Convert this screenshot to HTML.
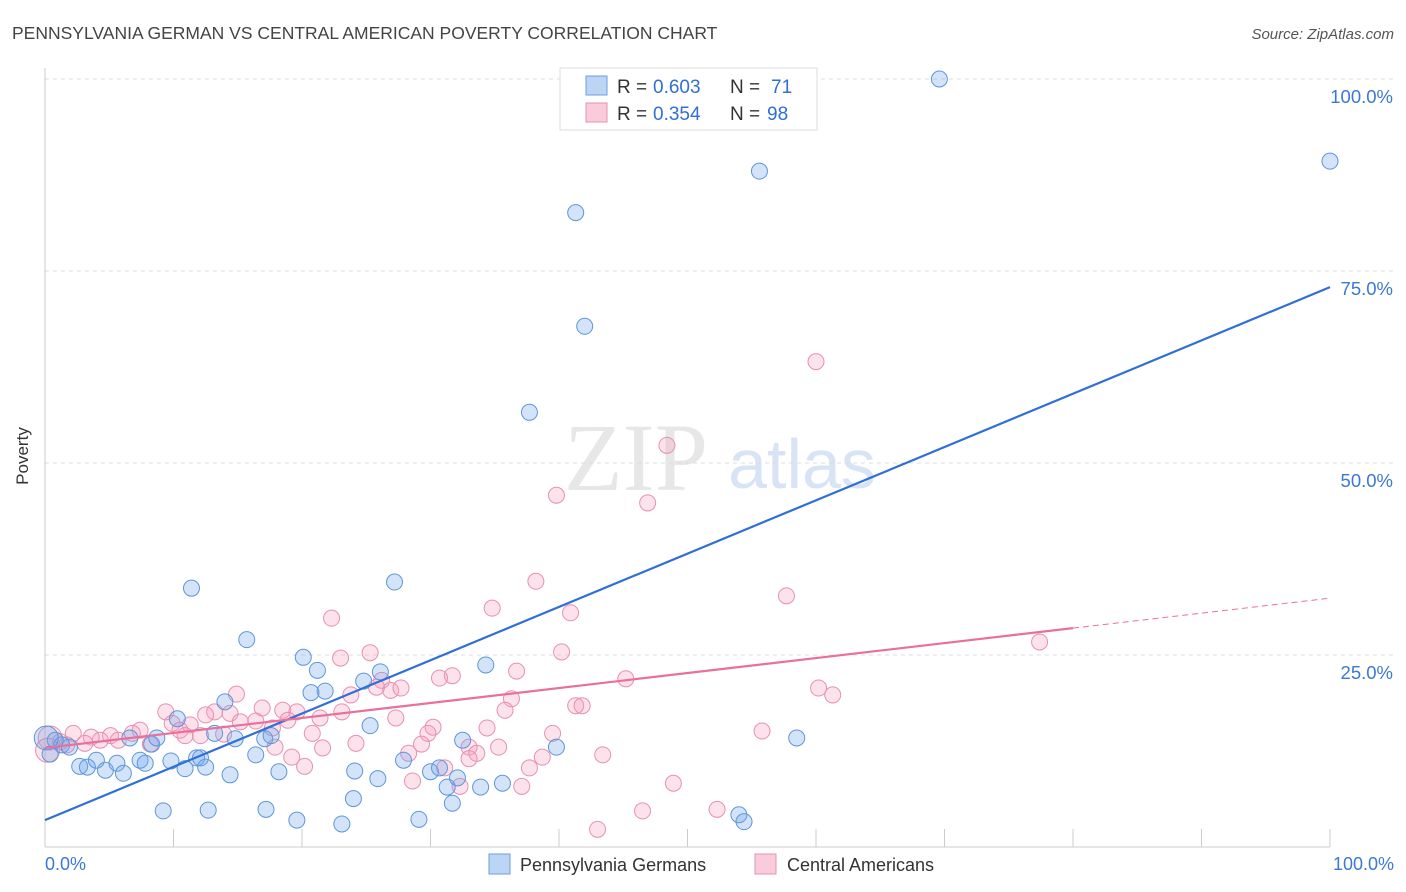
<!DOCTYPE html>
<html><head><meta charset="utf-8"><style>
body{margin:0;background:#fff;font-family:"Liberation Sans",sans-serif;}
svg{display:block}
</style></head><body>
<svg id="chart" width="1406" height="892">
<text x="12" y="39" font-size="17.5" fill="#444">PENNSYLVANIA GERMAN VS CENTRAL AMERICAN POVERTY CORRELATION CHART</text>
<text x="1394" y="39" font-size="15" fill="#555" font-style="italic" text-anchor="end">Source: ZipAtlas.com</text>
<text x="28" y="456" font-size="17" fill="#333" text-anchor="middle" transform="rotate(-90 28 456)">Poverty</text>
<g>
<text x="636" y="490" font-size="96" fill="#ddd" font-family="Liberation Serif,serif" text-anchor="middle" opacity="0.7">ZIP</text>
<text x="802" y="488" font-size="70" fill="#c8daf2" text-anchor="middle" opacity="0.7">atlas</text>
</g>
<g id="grid"></g>
<g id="marks"></g>
<g id="lines"></g>
<g>
<rect x="560" y="68" width="257" height="62" fill="#fff" stroke="#ddd"/>
<rect x="586" y="76" width="21" height="19" fill="#bcd5f5" stroke="#6a9fe0"/>
<text x="617" y="93" font-size="19" fill="#333">R =</text>
<text x="653" y="93" font-size="19" fill="#2f6fd6">0.603</text>
<text x="730" y="93" font-size="19" fill="#333">N =</text>
<text x="771" y="93" font-size="19" fill="#2f6fd6">71</text>
<rect x="586" y="103" width="21" height="19" fill="#f9cbdb" stroke="#e890b0"/>
<text x="617" y="120" font-size="19" fill="#333">R =</text>
<text x="653" y="120" font-size="19" fill="#2f6fd6">0.354</text>
<text x="730" y="120" font-size="19" fill="#333">N =</text>
<text x="767" y="120" font-size="19" fill="#2f6fd6">98</text>
</g>
<g>
<rect x="489" y="854" width="21" height="20" fill="#bcd5f5" stroke="#6a9fe0"/>
<text x="520" y="871" font-size="18" fill="#333">Pennsylvania Germans</text>
<rect x="755" y="854" width="21" height="20" fill="#f9cbdb" stroke="#e890b0"/>
<text x="787" y="871" font-size="18" fill="#333">Central Americans</text>
</g>
</svg>
<script>
const yTicks=[25,50,75,100];
const yTickLabels=["25.0%","50.0%","75.0%","100.0%"];
const xTickLabels=["0.0%","100.0%"];
const blueX=[69.6,100,55.6,41.3,42.0,37.7,27.2,11.4,15.7,20.1,21.2,21.8,20.7,24.8,26.1,34.3,14.0,10.3,13.2,14.8,17.1,17.6,25.3,32.5,39.8,58.5,0.8,1.3,1.9,0.4,2.7,3.3,4.0,4.7,5.6,6.1,7.4,7.8,8.3,8.7,9.8,10.9,11.8,12.5,14.4,16.4,18.2,24.1,25.9,27.9,30.0,30.7,32.1,31.3,33.9,35.6,24.0,31.7,9.2,12.7,17.2,19.6,23.1,29.1,54.0,54.4,6.6,12.1,0.1];
const blueY=[100,89.3,88.0,82.6,67.8,56.6,34.5,33.7,27.0,24.7,23.0,20.3,20.1,21.6,22.8,23.7,18.9,16.7,14.8,14.1,14.1,14.5,15.8,13.9,13.0,14.2,13.9,13.3,13.0,12.1,10.5,10.4,11.3,10.0,10.9,9.6,11.3,10.9,13.4,14.2,11.2,10.2,11.6,10.4,9.4,12.0,9.8,9.9,8.9,11.3,9.8,10.3,9.0,7.8,7.8,8.3,6.3,5.7,4.7,4.8,4.9,3.5,3.0,3.6,4.2,3.3,14.2,11.6,14.2];
const pinkX=[60.0,48.4,39.8,46.9,38.2,57.7,34.8,40.9,22.3,77.4,40.2,23.0,25.3,36.7,31.7,30.7,45.2,26.2,25.8,26.9,27.7,23.8,60.2,61.3,36.3,14.9,35.8,41.3,41.8,9.4,13.2,16.9,18.5,19.6,23.1,27.3,12.5,14.4,18.9,21.4,9.9,11.3,15.2,16.4,17.7,30.2,34.4,29.8,20.8,13.9,10.5,7.4,6.8,5.1,4.3,3.6,2.2,1.2,3.1,5.7,8.2,10.9,12.1,55.8,39.5,24.2,17.9,21.6,29.3,33.0,35.3,28.3,33.6,19.2,38.7,33.0,43.4,20.2,31.1,37.7,28.6,48.9,32.3,37.1,52.3,46.5,43.0,0.4,0.2,1.7];
const pinkY=[63.2,52.3,45.8,44.8,34.6,32.7,31.1,30.5,29.8,26.7,25.4,24.6,25.3,22.9,22.3,22.0,21.9,21.7,20.8,20.4,20.7,19.8,20.7,19.8,19.3,19.9,17.8,18.4,18.4,17.6,17.6,18.1,17.8,17.6,17.6,16.8,17.2,17.4,16.5,16.8,16.1,15.9,16.3,16.4,15.5,15.6,15.5,14.8,14.8,14.7,15.2,15.2,14.8,14.5,13.9,14.3,14.8,13.7,13.5,13.9,13.4,14.5,14.5,15.1,14.8,13.5,13.0,12.9,13.4,13.0,13.0,12.2,12.2,11.7,11.7,11.5,12.0,10.5,10.3,10.3,8.6,8.3,7.9,7.9,4.9,4.7,2.3,14.2,12.6,13.3];
const blueFit=[3.5,0.694];
const pinkFit=[12.9,0.195];
const pinkSolidEnd=[80];

const X0=45,X1=1330,Y0=847,Y100=79;
const xs=v=>X0+(X1-X0)*v/100;
const ys=v=>Y0-(Y0-Y100)*v/100;
const NS="http://www.w3.org/2000/svg";
function mk(tag,attrs,parent){const e=document.createElementNS(NS,tag);for(const k in attrs)e.setAttribute(k,attrs[k]);parent.appendChild(e);return e;}
const grid=document.getElementById('grid'),marks=document.getElementById('marks'),lines=document.getElementById('lines');
yTicks.forEach((t,i)=>{
 const g=mk('line',{x1:X0,x2:1394,y1:ys(t),y2:ys(t),stroke:'#ddd','stroke-dasharray':'4,4'},grid);
 
 
 const tx=mk('text',{x:1393,y:ys(t)+24,'font-size':18.5,fill:'#3b78d8','text-anchor':'end'},grid);
 tx.textContent=yTickLabels[i];
 
 
});
const ax=mk('line',{x1:X0,x2:X1,y1:Y0,y2:Y0,stroke:'#ccc'},grid);


const ay=mk('line',{x1:X0,x2:X0,y1:68,y2:Y0,stroke:'#ccc'},grid);


for(let i=1;i<=10;i++){
 const t=mk('line',{x1:xs(i*10),x2:xs(i*10),y1:829,y2:Y0,stroke:'#ccc'},grid);
 
 
}
xTickLabels.forEach((l,i)=>{
 const t=mk('text',{x:i?1394:45,y:870,'font-size':18,fill:'#3b78d8','text-anchor':i?'end':'start'},grid);
 t.textContent=l;
 
 
});
function pts(X,Y,fill,stroke,name){
 X.forEach((x,i)=>{
  const big=(x<0.5&&i>=X.length-3);
  const c=mk('circle',{cx:xs(x),cy:ys(Y[i]),r:big?12:8,fill:fill,stroke:stroke,'stroke-width':1},marks);
  
  
 });
}
pts(pinkX,pinkY,'rgba(244,160,190,0.3)','#e890b0','central-american-point');
pts(blueX,blueY,'rgba(110,165,235,0.3)','#5f95dc','pennsylvania-german-point');
const bl=mk('line',{x1:xs(0),y1:ys(blueFit[0]),x2:xs(100),y2:ys(blueFit[0]+blueFit[1]*100),stroke:'#2f6fd6','stroke-width':2.2},lines);


const e=pinkSolidEnd[0];
const pl=mk('line',{x1:xs(0),y1:ys(pinkFit[0]),x2:xs(e),y2:ys(pinkFit[0]+pinkFit[1]*e),stroke:'#e8709a','stroke-width':2.2},lines);


const pd=mk('line',{x1:xs(e),y1:ys(pinkFit[0]+pinkFit[1]*e),x2:xs(100),y2:ys(pinkFit[0]+pinkFit[1]*100),stroke:'#e8709a','stroke-width':1,'stroke-dasharray':'6,4'},lines);


</script>
</body></html>
